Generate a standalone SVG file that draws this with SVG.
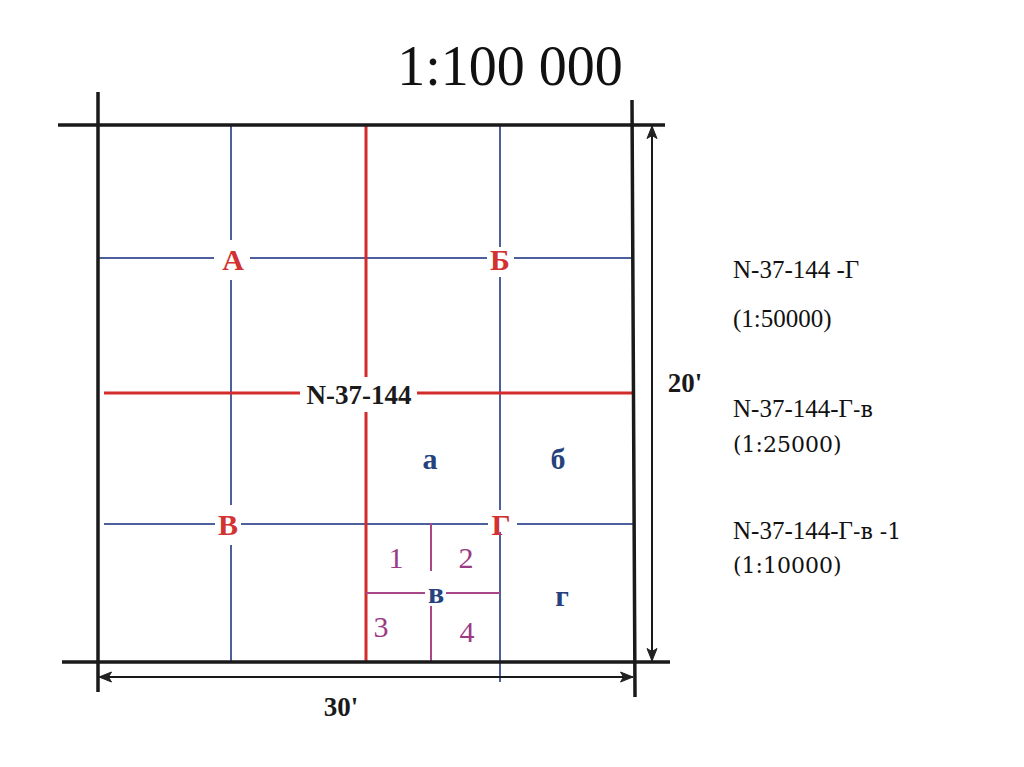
<svg xmlns="http://www.w3.org/2000/svg" width="1024" height="767" viewBox="0 0 1024 767">
<style>
.frame{stroke:#1a1a1a;stroke-width:3.5;fill:none;stroke-linecap:butt}
.blue{stroke:#4d5f9c;stroke-width:2;fill:none}
.red{stroke:#d42b2b;stroke-width:3;fill:none}
.pur{stroke:#a8488a;stroke-width:2;fill:none}
.dim{stroke:#1a1a1a;stroke-width:2;fill:none}
.lblR{font-family:"Liberation Serif",serif;font-weight:bold;font-size:30px;fill:#d23232;text-anchor:middle}
.lblB{font-family:"Liberation Serif",serif;font-weight:bold;font-size:30px;fill:#26427e;text-anchor:middle}
.num{font-family:"Liberation Serif",serif;font-size:30px;fill:#9b3a84;text-anchor:middle}
.blk{font-family:"Liberation Serif",serif;font-weight:bold;font-size:27px;fill:#1a1a1a;text-anchor:middle}
.side{font-family:"Liberation Serif",serif;font-size:25px;fill:#111}
.side2{font-family:"DejaVu Serif",serif;font-size:22px;fill:#111}
</style>
<defs>
<marker id="ah" viewBox="0 0 14 12" refX="13" refY="6" markerWidth="14" markerHeight="12" markerUnits="userSpaceOnUse" orient="auto-start-reverse">
<path d="M0.5,1 L13,6 L0.5,11 L3.5,6 Z" fill="#222" stroke="#222" stroke-width="1" stroke-linejoin="miter"/>
</marker>
</defs>
<rect width="1024" height="767" fill="#fff"/>
<text x="510" y="85" font-family="Liberation Serif, serif" font-size="56" text-anchor="middle" fill="#111">1:100 000</text>

<g id="connectors">
<!-- blue grid -->
<path class="blue" d="M231,125 V240 M231,280 V505 M231,545 V662"/>
<path class="blue" d="M500,125 V247 M500,277 V510 M500,532 V682"/>
<path class="blue" d="M98,258 H214 M250,258 H487 M514,258 H632"/>
<path class="blue" d="M104,524 H215 M241,524 H488 M517,524 H633"/>
<!-- red -->
<path class="red" d="M366,125 V377 M366,412 V662"/>
<path class="red" d="M104,393 H300 M417,393 H633"/>
<!-- purple -->
<path class="pur" d="M431,523 V571 M431,606 V662"/>
<path class="pur" d="M366,593 H425 M446,593 H500"/>
<!-- frame -->
<path class="frame" d="M58,125 H665 M62,662 H670 M98,92 V692 M632,100 L635,697"/>
<!-- dimensions -->
<line class="dim" x1="652" y1="126" x2="652" y2="661" marker-start="url(#ah)" marker-end="url(#ah)"/>
<line class="dim" x1="99" y1="677" x2="633" y2="677" marker-start="url(#ah)" marker-end="url(#ah)"/>
</g>

<g id="label-A"><text class="lblR" x="233" y="270">А</text></g>
<g id="label-B6"><text class="lblR" x="500" y="270">Б</text></g>
<g id="label-V"><text class="lblR" x="228" y="535">В</text></g>
<g id="label-G"><text class="lblR" x="501" y="535">Г</text></g>
<g id="label-sheet"><text class="blk" x="359" y="404">N-37-144</text></g>
<g id="label-a"><text class="lblB" x="430" y="469">а</text></g>
<g id="label-b"><text class="lblB" x="558" y="469">б</text></g>
<g id="label-v"><text class="lblB" x="436" y="603" font-size="26">в</text></g>
<g id="label-g"><text class="lblB" x="562" y="606">г</text></g>
<g id="num-1"><text class="num" x="396" y="568">1</text></g>
<g id="num-2"><text class="num" x="466" y="568">2</text></g>
<g id="num-3"><text class="num" x="381" y="637">3</text></g>
<g id="num-4"><text class="num" x="467" y="642">4</text></g>
<g id="dim-20"><text class="blk" x="685" y="392" font-size="26">20'</text></g>
<g id="dim-30"><text class="blk" x="341" y="716" font-size="26">30'</text></g>

<g id="legend">
<text class="side" x="733" y="278">N-37-144 -Г</text>
<text class="side" x="733" y="327">(1:50000)</text>
<text class="side" x="733" y="417">N-37-144-Г<tspan class="side2">-в</tspan></text>
<text class="side2" x="733" y="452">(1:25000)</text>
<text class="side" x="733" y="539">N-37-144-Г<tspan class="side2">-в -1</tspan></text>
<text class="side2" x="733" y="573">(1:10000)</text>
</g>
</svg>
